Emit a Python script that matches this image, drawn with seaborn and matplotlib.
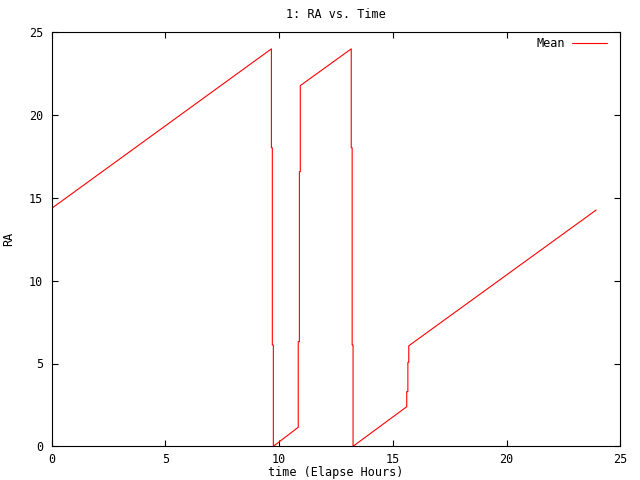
import matplotlib
matplotlib.use("Agg")
import matplotlib.pyplot as plt
import seaborn as sns
import pandas as pd

# vertices (time in elapsed hours, RA in hours)
tempo = [0.0, 9.66, 9.66, 9.70, 9.70, 9.745, 9.745,
         10.84, 10.84, 10.89, 10.89, 10.93, 10.93,
         13.17, 13.17, 13.21, 13.21, 13.25, 13.25,
         15.61, 15.61, 15.66, 15.66, 15.70, 15.70, 23.94]
ra = [14.37, 24.0, 18.03, 18.03, 6.12, 6.12, 0.0,
      1.15, 6.32, 6.32, 16.58, 16.58, 21.78,
      24.0, 18.03, 18.03, 6.12, 6.12, 0.0,
      2.39, 3.30, 3.30, 5.07, 5.07, 6.07, 14.27]

x_ticks = [0, 5, 10, 15, 20, 25]
y_ticks = [0, 5, 10, 15, 20, 25]

sns.set_theme(style="ticks")
plt.rcParams['font.family'] = ['DejaVu Sans Mono']
plt.rcParams['font.size'] = 8.5
plt.rcParams['text.color'] = 'black'
plt.rcParams['axes.labelcolor'] = 'black'

df = pd.DataFrame({'time': tempo, 'RA': ra})

fig = plt.figure(figsize=(6.4, 4.8), dpi=100)
ax = fig.add_axes([51.7 / 640, 1 - 446.3 / 480, (620.3 - 51.7) / 640, (446.3 - 32.3) / 480])

sns.lineplot(data=df, x='time', y='RA', sort=False, estimator=None,
             color='#ff0000', linewidth=0.8, label='Mean', ax=ax)

ax.set_xlim(0, 25)
ax.set_ylim(0, 25)
ax.set_xticks(x_ticks)
ax.set_yticks(y_ticks)
ax.tick_params(direction='in', length=4.3, width=0.8, top=True, right=True,
               labelsize=8.5, colors='black', pad=6)
ax.tick_params(axis='x', pad=5)
for s in ax.spines.values():
    s.set_visible(True)
    s.set_color('black')
    s.set_linewidth(0.8)

ax.set_title('1: RA vs. Time', fontsize=8.5, pad=10, color='black')
ax.set_xlabel('time (Elapse Hours)', fontsize=8.5, color='black')
ax.set_ylabel('RA', fontsize=8.5, color='black')
ax.xaxis.set_label_coords(0.5, -0.048)
ax.yaxis.set_label_coords(-0.064, 0.5)

ax.legend(loc='upper right', bbox_to_anchor=(0.985, 1.0), frameon=False,
          markerfirst=False, handlelength=3.0, fontsize=8.5,
          borderaxespad=0.0, handletextpad=0.6, labelcolor='black')

fig.savefig('out.png', dpi=100)
